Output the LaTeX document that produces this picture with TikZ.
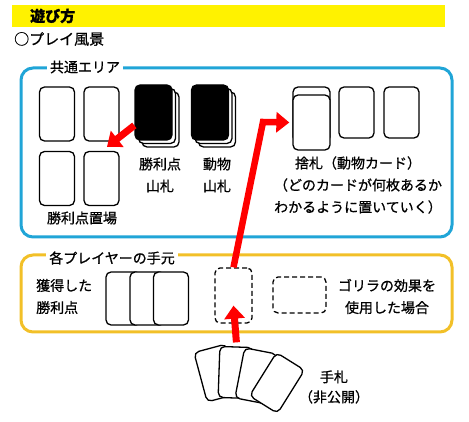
\documentclass[tikz,border=0pt]{standalone}
\usepackage{fontspec}
\setmainfont{Noto Sans CJK JP}[FakeBold=0.8]
\usetikzlibrary{arrows.meta}

\definecolor{areablue}{RGB}{32,165,215}
\definecolor{areaorange}{RGB}{242,192,40}

\tikzset{
  card/.style={draw=black, rectangle, rounded corners=5pt, fill=white, line width=1.3pt,
    minimum width=35pt, minimum height=54pt, inner sep=0pt},
  deckcard/.style={card, minimum width=37pt, minimum height=55pt},
  handcard/.style={card, minimum width=33pt, minimum height=51pt},
  emptycard/.style={card, dash pattern=on 5pt off 3pt, fill=none},
  txt/.style={font=\fontsize{14}{22}\selectfont, align=center, inner sep=1pt},
  area/.style={rounded corners=12pt, line width=3pt},
  redarrow/.style={draw=red, line width=7pt, -{Triangle[length=13pt,width=20pt]}},
}

\begin{document}
\begin{tikzpicture}[x=1pt, y=-1pt]
  \useasboundingbox (0,0) rectangle (469,422);

  \fill[yellow] (12,5) rectangle (445,27);
  \node[txt, anchor=west, font={\fontsize{15}{18}\selectfont\bfseries}] (title) at (29,16) {遊び方};
  \node[txt, anchor=west, font={\fontsize{15}{18}\selectfont}] (scene) at (13,39) {○プレイ風景};

  \draw[area, draw=areablue] (21,68) rectangle (452,237);
  \node[txt, fill=white, inner sep=3pt] (common) at (85,67) {共通エリア};

  \node[card] (vp1) at (57,114) {};
  \node[card] (vp2) at (101.5,114) {};
  \node[card] (vp3) at (57,178.5) {};
  \node[card] (vp4) at (101.5,178.5) {};
  \node[txt] (vplbl) at (82,218) {勝利点置場};

  \node[deckcard] (deck1c) at (160.5,119.5) {};
  \node[deckcard] (deck1b) at (157,116) {};
  \node[deckcard, fill=black] (deck1) at (153.5,112.5) {};
  \node[deckcard] (deck2c) at (217,119.5) {};
  \node[deckcard] (deck2b) at (213.5,116) {};
  \node[deckcard, fill=black] (deck2) at (210,112.5) {};
  \node[txt] (deck1lbl) at (160,175) {勝利点\\山札};
  \node[txt] (deck2lbl) at (217,175) {動物\\山札};

  \node[deckcard] (disc0) at (311.5,114.5) {};
  \node[deckcard] (disc1) at (311.5,122.5) {};
  \node[card, minimum height=51pt] (disc2) at (356.5,112.5) {};
  \node[card, minimum height=51pt] (disc3) at (401.5,112.5) {};
  \node[txt] (disclbl) at (358,185) {捨札（動物カード）\\（どのカードが何枚あるか\\わかるように置いていく）};

  \draw[redarrow] (deck1.214) -- ([shift={(5.5,-4)}]vp4.north);

  \draw[area, draw=areaorange] (21,255) rectangle (452,332);
  \node[txt, fill=white, inner sep=3pt] (own) at (112,258) {各プレイヤーの手元};
  \node[txt, align=left, anchor=west] (gotlbl) at (35,296.5) {獲得した\\勝利点};
  \node[card, minimum height=53pt] (got1) at (123.5,298.5) {};
  \node[card, minimum height=53pt] (got2) at (147.5,298.5) {};
  \node[card, minimum height=53pt] (got3) at (171,298.5) {};
  \node[emptycard, minimum width=37pt, minimum height=55pt] (play) at (233.5,295.5) {};
  \node[emptycard, minimum width=53pt, minimum height=36pt] (gorilla) at (299.5,295) {};
  \node[txt] (gorillalbl) at (387,296.5) {ゴリラの効果を\\使用した場合};

  \node[handcard, rotate=15] (hand1) at (216.5,373) {};
  \node[handcard, rotate=-2] (hand2) at (235.5,372.5) {};
  \node[handcard, rotate=-11] (hand3) at (256,376) {};
  \node[handcard, rotate=-32] (hand4) at (277,383) {};
  \node[txt, font={\fontsize{14}{20}\selectfont}] (handlbl) at (334,387) {手札\\（非公開）};

  \coordinate (bend) at (263,122);
  \draw[redarrow, line width=6.5pt] (play.north) -- (bend) -- ([xshift=-3pt]disc1.west);
  \draw[redarrow] ([yshift=4pt]hand2.north) -- ([yshift=18pt]play.south);
\end{tikzpicture}
\end{document}
